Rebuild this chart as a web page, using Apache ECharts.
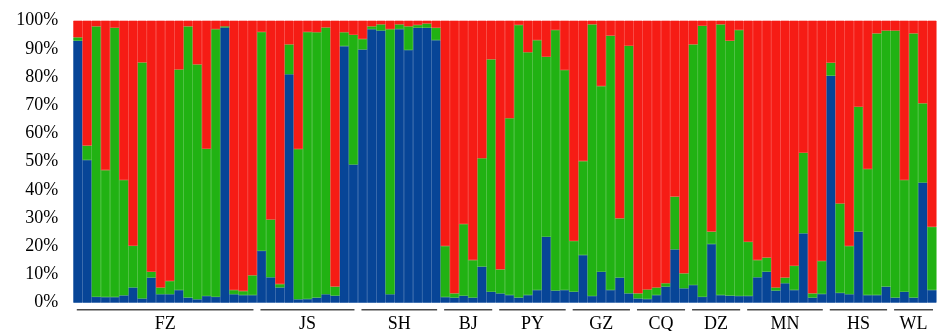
<!DOCTYPE html>
<html>
<head>
<meta charset="utf-8">
<script src="https://cdn.jsdelivr.net/npm/echarts@6/dist/echarts.min.js"></script>
<style>
  html, body { margin: 0; padding: 0; background: #fff; }
  #chart { width: 937px; height: 331px; }
</style>
</head>
<body>
<div id="chart"></div>
<script>
// individuals, left to right (94 bars)
const individuals = Array.from({ length: 94 }, (_, i) => String(i + 1))

// ancestry proportions (%) per individual
const blue = [
  92.9, 50.6, 2.1, 2.0, 2.0, 2.6, 5.4, 1.5, 8.9, 3.0,
  3.0, 4.5, 1.8, 1.2, 2.4, 2.1, 97.6, 3.0, 2.7, 2.7,
  18.4, 9.0, 5.4, 81.0, 1.2, 1.3, 1.8, 3.0, 2.5, 91.0,
  49.0, 89.8, 97.0, 96.5, 3.0, 97.0, 89.6, 97.5, 97.5, 93.1,
  2.0, 1.8, 2.5, 1.8, 12.8, 3.9, 3.3, 2.7, 1.8, 2.7,
  4.5, 23.4, 4.3, 4.5, 3.9, 16.9, 2.4, 11.0, 4.5, 8.9,
  3.3, 1.5, 1.3, 2.7, 5.7, 18.9, 5.1, 6.3, 2.1, 20.8,
  2.7, 2.5, 2.4, 2.4, 9.0, 11.0, 4.3, 6.9, 4.5, 24.6,
  1.8, 3.1, 80.5, 3.5, 3.0, 25.2, 2.7, 2.7, 5.7, 1.8,
  3.9, 1.8, 42.6, 4.5
]
const green = [
  1.2, 5.1, 95.9, 45.0, 95.5, 40.9, 14.8, 83.7, 2.1, 2.4,
  4.7, 78.2, 96.2, 83.3, 52.2, 94.9, 0.4, 1.5, 1.4, 7.0,
  77.6, 20.5, 1.2, 10.6, 53.3, 94.7, 94.1, 94.6, 3.2, 4.9,
  46.0, 3.7, 1.0, 2.2, 94.0, 1.7, 8.4, 1.0, 1.5, 4.4,
  18.1, 1.5, 25.4, 13.3, 38.4, 82.4, 8.5, 62.7, 96.7, 86.1,
  88.6, 63.8, 92.4, 78.0, 18.0, 33.3, 96.3, 65.8, 90.2, 21.0,
  87.8, 1.8, 3.4, 2.7, 1.2, 18.7, 5.3, 85.3, 96.1, 4.4,
  96.0, 90.4, 94.3, 19.2, 6.1, 5.0, 1.1, 2.0, 8.6, 28.6,
  1.5, 11.7, 4.6, 31.7, 17.1, 44.3, 44.7, 92.8, 90.8, 94.7,
  39.6, 93.7, 28.1, 22.4
]
const red = [
  5.9, 44.3, 2.0, 53.0, 2.5, 56.5, 79.8, 14.8, 89.0, 94.6,
  92.3, 17.3, 2.0, 15.5, 45.4, 3.0, 2.0, 95.5, 95.9, 90.3,
  4.0, 70.5, 93.4, 8.4, 45.5, 4.0, 4.1, 2.4, 94.3, 4.1,
  5.0, 6.5, 2.0, 1.3, 3.0, 1.3, 2.0, 1.5, 1.0, 2.5,
  79.9, 96.7, 72.1, 84.9, 48.8, 13.7, 88.2, 34.6, 1.5, 11.2,
  6.9, 12.8, 3.3, 17.5, 78.1, 49.8, 1.3, 23.2, 5.3, 70.1,
  8.9, 96.7, 95.3, 94.6, 93.1, 62.4, 89.6, 8.4, 1.8, 74.8,
  1.3, 7.1, 3.3, 78.4, 84.9, 84.0, 94.6, 91.1, 86.9, 46.8,
  96.7, 85.2, 14.9, 64.8, 79.9, 30.5, 52.6, 4.5, 3.5, 3.5,
  56.5, 4.5, 29.3, 73.1
]

// populations: name, first and last individual index
const groupNames = ['FZ', 'JS', 'SH', 'BJ', 'PY', 'GZ', 'CQ', 'DZ', 'MN', 'HS', 'WL']
const groupStart = [0, 20, 31, 40, 46, 54, 61, 67, 73, 82, 89]
const groupEnd = [19, 30, 39, 45, 53, 60, 66, 72, 81, 88, 93]

const yTicks = [0, 10, 20, 30, 40, 50, 60, 70, 80, 90, 100]

const FONT = 'Liberation Serif'

const chart = echarts.init(document.getElementById('chart'), null, { renderer: 'canvas' })

// border in the fill colour hides the hairline seams between bars
const barSeries = (name, data, color) => ({
  name,
  type: 'bar',
  stack: 'q',
  data,
  barWidth: '100%',
  itemStyle: { color, borderColor: color, borderWidth: 0.6 },
  emphasis: { disabled: true },
  silent: true
})

// group underline + label, positioned from the category scale
const renderGroup = (params, api) => {
  const s = api.value(0)
  const e = api.value(2)
  const bw = api.size([1, 0])[0]
  const p0 = api.coord([s, 0])
  const p1 = api.coord([e, 0])
  const x0 = p0[0] - bw / 2 + 3.5
  const x1 = p1[0] + bw / 2 - 3.5
  const y = p0[1] + 7
  return {
    type: 'group',
    children: [
      {
        type: 'line',
        shape: { x1: x0, y1: y, x2: x1, y2: y },
        style: { stroke: '#4a4a4a', lineWidth: 1.5 }
      },
      {
        type: 'text',
        x: (x0 + x1) / 2,
        y: y + 15,
        style: {
          text: groupNames[params.dataIndex],
          fill: '#000',
          font: `18px "${FONT}"`,
          align: 'center',
          verticalAlign: 'middle'
        }
      }
    ]
  }
}

const option = {
  animation: false,
  backgroundColor: '#fff',
  grid: { left: 73.3, right: 0.5, top: 20.7, bottom: 28.3, containLabel: false },
  xAxis: {
    type: 'category',
    data: individuals,
    axisLine: { show: false },
    axisTick: { show: false },
    axisLabel: { show: false },
    splitLine: { show: false }
  },
  yAxis: {
    type: 'value',
    min: yTicks[0],
    max: yTicks[yTicks.length - 1],
    interval: 10,
    axisLine: { show: false },
    axisTick: { show: false },
    splitLine: { show: false },
    axisLabel: {
      margin: 15,
      color: '#000',
      fontFamily: FONT,
      fontSize: 18,
      formatter: '{value}%'
    }
  },
  series: [
    barSeries('blue', blue, '#074597'),
    barSeries('green', green, '#21b213'),
    barSeries('red', red, '#f61c15'),
    {
      type: 'custom',
      clip: false,
      silent: true,
      renderItem: renderGroup,
      data: groupNames.map((n, i) => ({ name: n, value: [groupStart[i], 0, groupEnd[i]] })),
      z: 10
    }
  ]
}

chart.setOption(option)
</script>
</body>
</html>
